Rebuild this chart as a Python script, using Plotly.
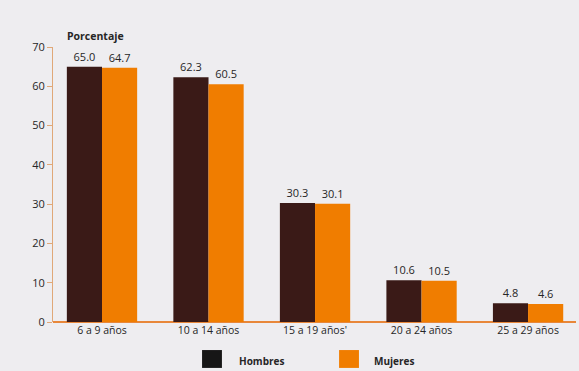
import plotly.graph_objects as go

categories = ["6 a 9 años", "10 a 14 años", "15 a 19 años'", "20 a 24 años", "25 a 29 años"]
hombres = [65.0, 62.3, 30.3, 10.6, 4.8]
mujeres = [64.7, 60.5, 30.1, 10.5, 4.6]
y_ticks = [0, 10, 20, 30, 40, 50, 60, 70]
series_names = ["Hombres", "Mujeres"]

font_family = "Open Sans, Lato, sans-serif"
txt = "#262626"

fig = go.Figure()
fig.add_trace(go.Bar(
    name=series_names[0], x=categories, y=hombres,
    marker=dict(color="#3a1a17", line=dict(width=0)),
    text=[f"{v:.1f}" for v in hombres], textposition="outside",
    textfont=dict(size=11, color=txt, family=font_family),
    cliponaxis=False,
))
fig.add_trace(go.Bar(
    name=series_names[1], x=categories, y=mujeres,
    marker=dict(color="#f07d00", line=dict(width=0)),
    text=[f"{v:.1f}" for v in mujeres], textposition="outside",
    textfont=dict(size=11, color=txt, family=font_family),
    cliponaxis=False,
))

# manual legend (squares + labels, in paper coordinates)
legend_specs = [
    (series_names[0], "#161616", 0.285, 0.323, 0.352),
    (series_names[1], "#f07d00", 0.547, 0.585, 0.610),
]
shapes = []
annotations = [dict(text="<b>Porcentaje</b>", x=0.023, xref="paper", y=1.0, yref="paper",
                    xanchor="left", yanchor="bottom", showarrow=False, yshift=2,
                    font=dict(size=10.5, color=txt, family=font_family))]
for name, col, x0, x1, tx in legend_specs:
    shapes.append(dict(type="rect", xref="paper", yref="paper", x0=x0, x1=x1,
                       y0=-0.167, y1=-0.102, fillcolor=col, line=dict(width=0)))
    annotations.append(dict(text=f"<b>{name}</b>", x=tx, xref="paper", y=-0.14, yref="paper",
                            xanchor="left", yanchor="middle", showarrow=False,
                            font=dict(size=10, color=txt, family=font_family)))

fig.update_layout(
    width=579, height=371,
    margin=dict(l=53, r=3, t=47, b=49),
    paper_bgcolor="#eeedf0",
    plot_bgcolor="rgba(0,0,0,0)",
    barmode="group",
    bargap=0.34,
    bargroupgap=0,
    font=dict(family=font_family, size=10, color=txt),
    showlegend=False,
    shapes=shapes,
    annotations=annotations,
)
fig.update_xaxes(
    range=[-0.46, 4.45], showgrid=False, zeroline=False,
    showline=False, ticks="", tickfont=dict(size=10.5, color=txt),
)
fig.update_yaxes(
    range=[0, 70], tickvals=y_ticks, showgrid=False, zeroline=True,
    zerolinecolor="#e8873a", zerolinewidth=2,
    showline=True, linecolor="#e0a878", linewidth=1,
    ticks="outside", ticklen=5, tickcolor="#e0a878",
    tickfont=dict(size=11, color=txt),
)

fig.write_html("out.html")
